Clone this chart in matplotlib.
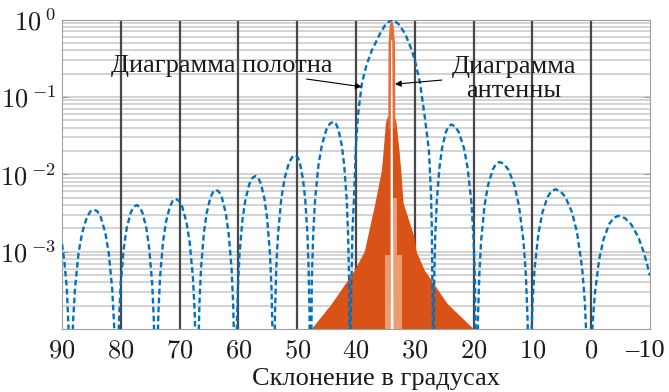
import matplotlib
matplotlib.use('Agg')
import matplotlib.pyplot as plt
import matplotlib.transforms as mtransforms
import numpy as np
from matplotlib.ticker import LogLocator, NullFormatter

plt.rcParams['font.family'] = ['Liberation Serif', 'DejaVu Serif']
plt.rcParams['mathtext.fontset'] = 'cm'

# ---------------- data ----------------
# canvas ("полотно") pattern, blue dashed, declination in degrees vs. relative power
canvas_deg = [
    90.0, 89.6, 89.2, 88.9, 88.6,
    88.36, 88.12, 87.79, 87.19, 86.58, 85.77, 85.17, 84.56, 83.98, 83.40, 82.63, 82.05, 81.47, 81.16, 80.93, 80.7,
    80.50, 80.29, 80.02, 79.51, 79.0, 78.32, 77.81, 77.3, 76.81, 76.31, 75.65, 75.16, 74.66, 74.40, 74.20, 74.0,
    73.80, 73.60, 73.33, 72.83, 72.33, 71.66, 71.16, 70.66, 70.11, 69.56, 68.83, 68.28, 67.73, 67.44, 67.22, 67.0,
    66.81, 66.62, 66.36, 65.88, 65.4, 64.76, 64.28, 63.8, 63.31, 62.81, 62.15, 61.66, 61.16, 60.90, 60.70, 60.5,
    60.30, 60.09, 59.82, 59.31, 58.8, 58.12, 57.61, 57.1, 56.64, 56.17, 55.55, 55.09, 54.62, 54.37, 54.19, 54.0,
    53.78, 53.56, 53.26, 52.71, 52.15, 51.41, 50.86, 50.3, 49.92, 49.54, 49.03, 48.64, 48.26, 48.06, 47.90, 47.75,
    47.52, 47.28, 46.97, 46.39, 45.80, 45.03, 44.44, 43.86, 43.43, 43.0, 42.43, 42.0, 41.57, 41.34, 41.17, 41.0,
    40.9, 40.6, 40.3, 40.05, 39.7, 39.0, 38.2, 37.3, 35.9, 34.9, 33.85, 32.8, 31.67, 30.5, 29.8, 29.1, 28.3, 27.6,
    27.25, 27.1, 26.95, 26.9,
    26.71, 26.53, 26.28, 25.82, 25.35, 24.73, 24.27, 23.8, 23.16, 22.51, 21.65, 21.01, 20.36, 20.02, 19.76, 19.5,
    19.27, 19.03, 18.72, 18.14, 17.55, 16.77, 16.19, 15.6, 14.84, 14.07, 13.05, 12.29, 11.52, 11.11, 10.81, 10.5,
    10.24, 9.97, 9.62, 8.96, 8.3, 7.42, 6.76, 6.1, 5.25, 4.39, 3.25, 2.40, 1.54, 1.08, 0.74, 0.4,
    0.1, -0.2, -0.6, -1.35, -2.1, -3.1, -3.85, -4.6, -5.7, -6.8, -8.0, -9.0, -10.0,
]
canvas_val = [
    1.25e-3, 7.5e-4, 3.5e-4, 1.1e-4, 1e-6,
    3.1e-5, 1.23e-4, 3.34e-4, 9.56e-4, 1.75e-3, 2.78e-3, 3.31e-3, 3.5e-3, 3.31e-3, 2.78e-3, 1.75e-3, 9.56e-4, 3.34e-4, 1.23e-4, 3.1e-5, 1e-6,
    3.54e-5, 1.40e-4, 3.82e-4, 1.09e-3, 2.0e-3, 3.18e-3, 3.78e-3, 4.0e-3, 3.78e-3, 3.18e-3, 2.0e-3, 1.09e-3, 3.82e-4, 1.40e-4, 3.54e-5, 1e-6,
    4.25e-5, 1.68e-4, 4.58e-4, 1.31e-3, 2.4e-3, 3.81e-3, 4.54e-3, 4.8e-3, 4.54e-3, 3.81e-3, 2.4e-3, 1.31e-3, 4.58e-4, 1.68e-4, 4.25e-5, 1e-6,
    5.58e-5, 2.21e-4, 6.02e-4, 1.72e-3, 3.15e-3, 5.0e-3, 5.95e-3, 6.3e-3, 5.95e-3, 5.0e-3, 3.15e-3, 1.72e-3, 6.02e-4, 2.21e-4, 5.58e-5, 1e-6,
    8.41e-5, 3.33e-4, 9.07e-4, 2.59e-3, 4.75e-3, 7.54e-3, 8.98e-3, 9.5e-3, 8.98e-3, 7.54e-3, 4.75e-3, 2.59e-3, 9.07e-4, 3.33e-4, 8.41e-5, 1e-6,
    1.56e-4, 6.18e-4, 1.68e-3, 4.80e-3, 8.8e-3, 1.40e-2, 1.66e-2, 1.76e-2, 1.66e-2, 1.40e-2, 8.8e-3, 4.80e-3, 1.68e-3, 6.18e-4, 1.56e-4, 1e-6,
    4.22e-4, 1.67e-3, 4.56e-3, 1.30e-2, 2.39e-2, 3.79e-2, 4.51e-2, 4.77e-2, 4.51e-2, 3.79e-2, 2.39e-2, 1.30e-2, 4.56e-3, 1.67e-3, 4.22e-4, 1e-6,
    1.2e-4, 1.9e-3, 5.7e-3, 2.04e-2, 5.5e-2, 0.149, 0.26, 0.40, 0.66, 0.88, 1.0, 0.88, 0.66, 0.40, 0.26, 0.149, 5.5e-2, 2.04e-2,
    5.7e-3, 1.9e-3, 1.2e-4, 1e-6,
    3.89e-4, 1.54e-3, 4.20e-3, 1.20e-2, 2.2e-2, 3.49e-2, 4.16e-2, 4.4e-2, 4.16e-2, 3.49e-2, 2.2e-2, 1.20e-2, 4.20e-3, 1.54e-3, 3.89e-4, 1e-6,
    1.27e-4, 5.05e-4, 1.38e-3, 3.93e-3, 7.2e-3, 1.14e-2, 1.36e-2, 1.44e-2, 1.36e-2, 1.14e-2, 7.2e-3, 3.93e-3, 1.38e-3, 5.05e-4, 1.27e-4, 1e-6,
    5.66e-5, 2.25e-4, 6.11e-4, 1.75e-3, 3.2e-3, 5.08e-3, 6.05e-3, 6.4e-3, 6.05e-3, 5.08e-3, 3.2e-3, 1.75e-3, 6.11e-4, 2.25e-4, 5.66e-5, 1e-6,
    2.57e-5, 1.02e-4, 2.77e-4, 7.92e-4, 1.45e-3, 2.30e-3, 2.74e-3, 2.9e-3, 2.72e-3, 2.25e-3, 1.55e-3, 9.5e-4, 4.9e-4,
]

# antenna ("антенна") pattern: outer envelope of the densely oscillating curve
antenna_env_deg = [48.5, 47.5, 44.1, 40.2, 38.5, 38.0, 36.7, 35.6, 35.3, 34.9, 34.6,
                   33.4, 33.1, 32.6, 32.3, 31.9, 30.0, 29.7, 28.3, 24.4, 20.0, 19.0]
antenna_env_val = [8e-5, 1e-4, 2.1e-4, 5.7e-4, 1.0e-3, 1.5e-3, 4.2e-3, 1.1e-2, 2.0e-2, 4.6e-2, 5.5e-2,
                   5.5e-2, 4.6e-2, 2.0e-2, 1.1e-2, 4.2e-3, 1.5e-3, 1.0e-3, 5.7e-4, 2.1e-4, 1.0e-4, 8.5e-5]
# main beam of the antenna pattern
spike_val = [0.04, 0.5, 0.85, 1.0]
spike_left = [34.6, 34.55, 34.35, 34.1]
spike_right = [33.4, 33.45, 33.7, 33.95]
# less densely filled (lighter) parts near the beam
light_strips = [  # (deg_from, deg_to, top value)
    (35.05, 34.2, 9e-4),
    (33.8, 32.25, 9e-4),
    (33.8, 33.1, 5e-3),
]
# empty gap at the beam centre
gap_val = [5e-5, 1e-2, 0.55]
gap_left = [34.22, 34.2, 34.12]
gap_right = [33.7, 33.8, 33.93]

declination_lines = [80, 70, 60, 50, 40, 30, 20, 10, 0]
xtick_vals = [90, 80, 70, 60, 50, 40, 30, 20, 10, 0, -10]
xtick_labels = ['$90$', '$80$', '$70$', '$60$', '$50$', '$40$', '$30$', '$20$', '$10$', '$0$', '\u201310']
ytick_vals = [1.0, 0.1, 0.01, 0.001]
ytick_labels = [r'$10^{\hspace{0.25}0}$', r'$10^{\hspace{0.25}{-1}}$',
                r'$10^{\hspace{0.25}{-2}}$', r'$10^{\hspace{0.25}{-3}}$']

xlabel = 'Склонение в градусах'
label_canvas = 'Диаграмма полотна'
label_antenna = ['Диаграмма', 'антенны']

# ---------------- figure ----------------
W, H = 669, 392
fig = plt.figure(figsize=(W / 100, H / 100), dpi=100)
ax = fig.add_axes([62 / W, (H - 329) / H, 588 / W, 309.5 / H])
ax.set_yscale('log')
ax.set_xlim(90, -10)
ax.set_ylim(1e-4, 1)

blue = '#0072BD'
orange = '#D95319'
txt = '#1a1a1a'

ax.set_yticks(ytick_vals)
ax.set_yticklabels(ytick_labels)
ax.yaxis.set_minor_locator(LogLocator(base=10, subs=np.arange(2, 10)))
ax.yaxis.set_minor_formatter(NullFormatter())
ax.set_xticks(xtick_vals)
ax.set_xticklabels(xtick_labels)

ax.yaxis.grid(True, which='both', color='#c8c8c8', lw=1.1, zorder=0)
ax.set_axisbelow(True)
ax.tick_params(axis='both', which='major', direction='in', length=4, color='#999999',
               labelsize=19, labelcolor=txt, right=True, top=False)
ax.tick_params(axis='x', pad=8)
ax.tick_params(axis='y', pad=4)
ax.tick_params(axis='y', which='minor', length=0)
for s in ax.spines.values():
    s.set_color('#a0a0a0')
    s.set_linewidth(0.8)

# the last x label ("–10") sits slightly left of its tick, as in the reference
last = ax.get_xticklabels()[-1]
last.set_fontsize(19)
last.set_transform(last.get_transform() +
                   mtransforms.ScaledTranslation(-5 / 100, 0, fig.dpi_scale_trans))

for d in declination_lines:
    ax.axvline(d, color='#474747', lw=1.6, zorder=1)

# antenna pattern
ax.fill(antenna_env_deg, antenna_env_val, color=orange, lw=0, zorder=2)
for d0, d1, top in light_strips:
    ax.fill_betweenx([5e-5, top], d0, d1, color='#EE9B72', lw=0, zorder=2.1)
ax.fill_betweenx(spike_val, spike_left, spike_right, color='#E26E38', lw=0, zorder=2.2)
ax.fill_betweenx(gap_val, gap_left, gap_right, color='white', lw=0, zorder=2.3)

# canvas pattern
ax.plot(canvas_deg, canvas_val, color=blue, lw=1.7, dashes=(2.4, 1.4), zorder=3)

# annotations
ax.text(62.9, 0.207, label_canvas, ha='center', va='baseline', fontsize=19, color=txt, zorder=5)
ax.text(13.2, 0.203, label_antenna[0], ha='center', va='baseline', fontsize=19, color=txt, zorder=5)
ax.text(13.2, 0.099, label_antenna[1], ha='center', va='baseline', fontsize=19, color=txt, zorder=5)
arrow = dict(arrowstyle='-|>', color='black', lw=0.8, mutation_scale=9, shrinkA=0, shrinkB=0)
ax.annotate('', xy=(39.03, 0.135), xytext=(48.4, 0.170), arrowprops=arrow, zorder=5)
ax.annotate('', xy=(33.37, 0.146), xytext=(25.4, 0.165), arrowprops=arrow, zorder=5)

ax.set_xlabel(xlabel, fontsize=19, color=txt)
ax.xaxis.label.set_va('baseline')
ax.xaxis.set_label_coords(0.534, -0.181)

fig.savefig('out.png', dpi=100)
